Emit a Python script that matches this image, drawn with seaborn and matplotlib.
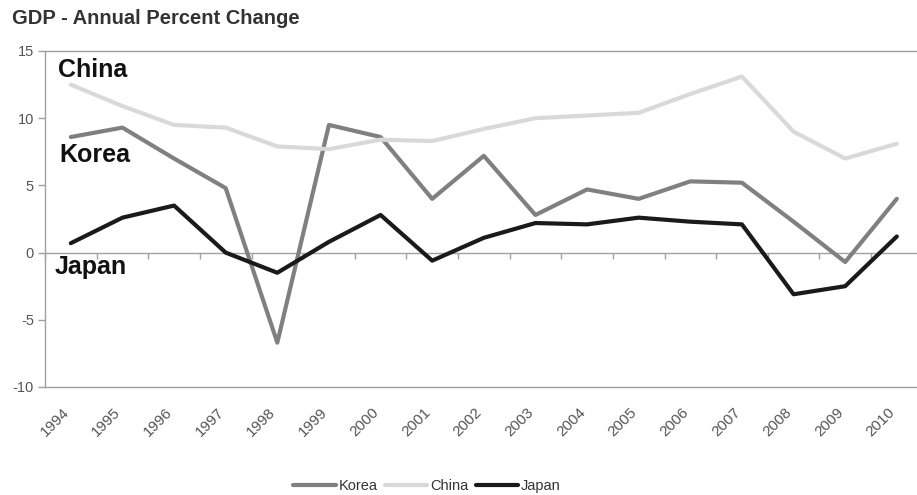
import numpy as np
import pandas as pd
import matplotlib
matplotlib.use("Agg")
import matplotlib.pyplot as plt
from matplotlib.transforms import ScaledTranslation
import seaborn as sns

years = [str(y) for y in range(1994, 2011)]
korea = [8.6, 9.3, 7.0, 4.8, -6.7, 9.5, 8.6, 4.0, 7.2, 2.8, 4.7, 4.0, 5.3, 5.2, 2.3, -0.7, 4.0]
china = [12.5, 10.9, 9.5, 9.3, 7.9, 7.7, 8.4, 8.3, 9.2, 10.0, 10.2, 10.4, 11.8, 13.1, 9.0, 7.0, 8.1]
japan = [0.7, 2.6, 3.5, 0.0, -1.5, 0.8, 2.8, -0.6, 1.1, 2.2, 2.1, 2.6, 2.3, 2.1, -3.1, -2.5, 1.2]
series_names = ["Korea", "China", "Japan"]
series_colors = ["#808080", "#d9d9d9", "#1a1a1a"]
y_ticks = [-10, -5, 0, 5, 10, 15]

sns.set_theme(style="white")
plt.rcParams["font.family"] = ["Liberation Sans", "DejaVu Sans"]
plt.rcParams["axes.unicode_minus"] = False

rows = []
for name, vals in zip(series_names, [korea, china, japan]):
    for i, v in enumerate(vals):
        rows.append({"idx": i, "year": years[i], "value": v, "country": name})
df = pd.DataFrame(rows)

fig = plt.figure(figsize=(9.17, 4.95), dpi=100)
left = 45 / 917
width = (17 * 51.625) / 917
bottom = (495 - 387) / 495
height = (387 - 51) / 495
ax = fig.add_axes([left, bottom, width, height])

sns.lineplot(data=df, x="idx", y="value", hue="country", hue_order=series_names,
             palette=series_colors, linewidth=3.0, ax=ax, legend=False, zorder=3)

ax.set_xlim(-0.5, len(years) - 0.5)
ax.set_ylim(-10, 15)
ax.set_yticks(y_ticks)
ax.set_yticklabels([str(t) for t in y_ticks])
ax.set_xticks(range(len(years)))
ax.set_xticklabels(years, rotation=45, ha="right", va="top", rotation_mode="anchor")
ax.set_xlabel("")
ax.set_ylabel("")
ax.grid(False)

spine_col = "#a0a0a0"
for side in ["top", "bottom", "left"]:
    ax.spines[side].set_visible(True)
    ax.spines[side].set_color(spine_col)
    ax.spines[side].set_linewidth(1.0)
ax.spines["right"].set_visible(False)

ax.tick_params(axis="y", which="both", left=True, length=5, width=1.0, color=spine_col,
               labelsize=10.5, labelcolor="#555555", pad=3)
ax.tick_params(axis="x", which="both", bottom=False, length=0,
               labelsize=11, labelcolor="#555555", pad=13)
shift = ScaledTranslation(-9 / 100, 0, fig.dpi_scale_trans)
for lab in ax.get_xticklabels():
    lab.set_transform(lab.get_transform() + shift)

# zero line with category-boundary tick marks
zero_ax = ax.secondary_xaxis(0.4)
zero_ax.set_xticks(np.arange(len(years) + 1) - 0.5)
zero_ax.xaxis.set_ticks_position("bottom")
zero_ax.tick_params(axis="x", direction="out", length=4, width=1.0, color=spine_col,
                    labelbottom=False, labeltop=False)
for s in zero_ax.spines.values():
    s.set_visible(False)
zero_ax.spines["bottom"].set_visible(True)
zero_ax.spines["bottom"].set_color(spine_col)
zero_ax.spines["bottom"].set_linewidth(1.0)

# in-chart series names
label_kw = dict(fontsize=18, fontweight="bold", color="#111111", va="center", ha="left")
ax.text(-0.25, 13.6, "China", **label_kw)
ax.text(-0.22, 7.25, "Korea", **label_kw)
ax.text(-0.32, -1.1, "Japan", **label_kw)

fig.text(12 / 917, 1 - 18 / 495, "GDP - Annual Percent Change", fontsize=14.5,
         fontweight="bold", color="#333333", va="center", ha="left")

handles = [plt.Line2D([], [], color=c, linewidth=3.0) for c in series_colors]
fig.legend(handles, series_names, loc="center", bbox_to_anchor=(427 / 917, 1 - 486 / 495),
           ncol=3, frameon=False, fontsize=10.5, handlelength=2.9, handletextpad=0.2,
           columnspacing=0.5, labelcolor="#333333")

fig.savefig("out.png", dpi=100, facecolor="white")
